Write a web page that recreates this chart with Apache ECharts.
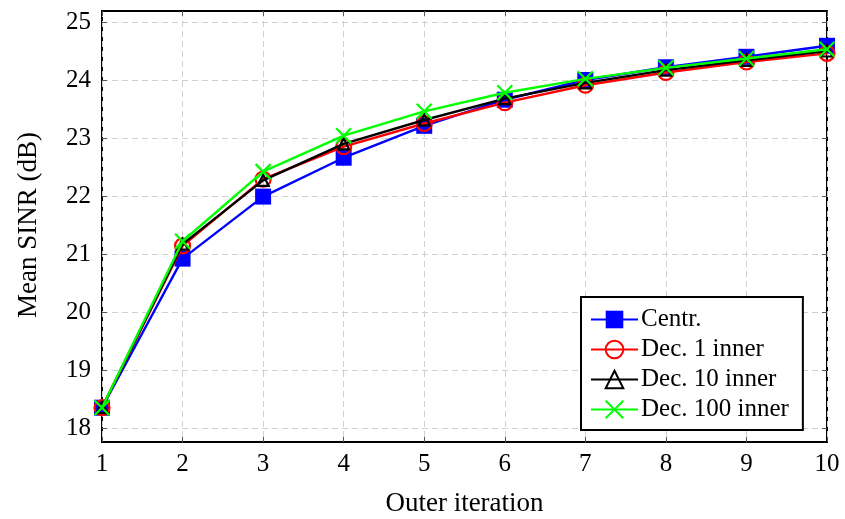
<!DOCTYPE html>
<html>
<head>
<meta charset="utf-8">
<script src="https://cdn.jsdelivr.net/npm/echarts@6/dist/echarts.min.js"></script>
<style>
  html, body { margin: 0; padding: 0; background: #fff; }
  #chart { width: 845px; height: 519px; }
</style>
</head>
<body>
<div id="chart"></div>
<script>
// Mean SINR per outer iteration for the centralized and decentralized schemes
const iterations = [1, 2, 3, 4, 5, 6, 7, 8, 9, 10];
const centr  = [18.35, 20.92, 21.99, 22.66, 23.21, 23.66, 24.00, 24.22, 24.40, 24.59];
const dec1   = [18.35, 21.14, 22.29, 22.85, 23.25, 23.61, 23.91, 24.13, 24.31, 24.46];
const dec10  = [18.35, 21.17, 22.27, 22.90, 23.31, 23.68, 23.95, 24.17, 24.34, 24.50];
const dec100 = [18.35, 21.22, 22.42, 23.04, 23.46, 23.78, 24.02, 24.21, 24.37, 24.53];
const seriesNames = ['Centr.', 'Dec. 1 inner', 'Dec. 10 inner', 'Dec. 100 inner'];
const yTicks = [18, 19, 20, 21, 22, 23, 24, 25];

const FONT = 'Liberation Serif';
const pairs = vals => iterations.map((x, i) => [x, vals[i]]);
const tickStyle = { show: true, inside: true, length: 5, lineStyle: { color: '#555', width: 1 } };
const dashed = { show: true, lineStyle: { color: '#d0d0d0', type: [6, 4], width: 1 } };

const chart = echarts.init(document.getElementById('chart'), null, { renderer: 'canvas' });

function line(name, vals, color, symbol, size, filled, z) {
  return {
    name, type: 'line', xAxisIndex: 0, yAxisIndex: 0,
    data: pairs(vals), symbol, symbolSize: size, z,
    lineStyle: { color, width: 2.4 },
    itemStyle: filled
      ? { color, borderColor: color, borderWidth: 0 }
      : { color: 'rgba(0,0,0,0)', borderColor: color, borderWidth: 2.2 },
    emphasis: { disabled: true },
    animation: false
  };
}

chart.setOption({
  animation: false,
  backgroundColor: '#fff',
  grid: [
    // data area: y from 18 to 25
    { left: 102, right: 18, top: 22, bottom: 91, outerBoundsMode: 'none', containLabel: false },
    // outer frame of the plot
    { left: 102, right: 18, top: 11, bottom: 77, outerBoundsMode: 'none', containLabel: false,
      show: true, borderColor: '#000', borderWidth: 2, backgroundColor: 'transparent' }
  ],
  xAxis: [
    { gridIndex: 0, type: 'value', min: 1, max: 10, show: false },
    {
      gridIndex: 1, type: 'value', min: 1, max: 10, interval: 1, position: 'bottom',
      axisLine: { show: false }, axisTick: tickStyle, splitLine: dashed,
      axisLabel: { fontFamily: FONT, fontSize: 25, color: '#000', margin: 10 },
      name: 'Outer iteration', nameLocation: 'middle', nameGap: 48,
      nameTextStyle: { fontFamily: FONT, fontSize: 27, color: '#000' }
    },
    {
      gridIndex: 1, type: 'value', min: 1, max: 10, interval: 1, position: 'top',
      axisLine: { show: false }, axisTick: tickStyle, axisLabel: { show: false }, splitLine: { show: false }
    }
  ],
  yAxis: [
    {
      gridIndex: 0, type: 'value', min: yTicks[0], max: yTicks[yTicks.length - 1], interval: 1, position: 'left',
      axisLine: { show: false }, axisTick: tickStyle, splitLine: dashed,
      axisLabel: { fontFamily: FONT, fontSize: 25, color: '#000', margin: 11 },
      name: 'Mean SINR (dB)', nameLocation: 'middle', nameGap: 60, nameRotate: 90,
      nameTextStyle: { fontFamily: FONT, fontSize: 27, color: '#000' }
    },
    {
      gridIndex: 0, type: 'value', min: yTicks[0], max: yTicks[yTicks.length - 1], interval: 1, position: 'right',
      axisLine: { show: false }, axisTick: tickStyle, axisLabel: { show: false }, splitLine: { show: false }
    },
    { gridIndex: 1, type: 'value', min: 0, max: 1, show: false }
  ],
  legend: {
    orient: 'vertical', left: 581, top: 297,
    padding: [10, 14, 8, 9], itemGap: 5, itemWidth: 47, itemHeight: 22,
    backgroundColor: '#fff', borderColor: '#000', borderWidth: 2, borderRadius: 0,
    textStyle: { fontFamily: FONT, fontSize: 25, color: '#000', padding: [0, 0, 0, -2] },
    data: seriesNames
  },
  series: [
    line(seriesNames[0], centr, '#0000ff', 'rect', 16, true, 2),
    line(seriesNames[1], dec1, '#ff0000', 'circle', 15, false, 3),
    line(seriesNames[2], dec10, '#000000', 'triangle', 11, false, 4),
    line(seriesNames[3], dec100, '#00ff00', 'path://M0,0L10,10M10,0L0,10', 15, false, 5)
  ]
});
</script>
</body>
</html>
